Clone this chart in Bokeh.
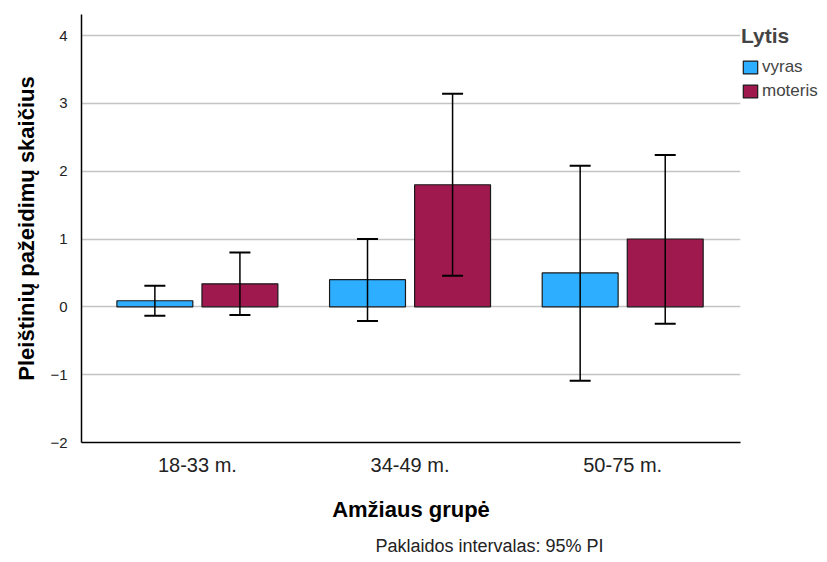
from bokeh.plotting import figure
from bokeh.models import (ColumnDataSource, Whisker, TeeHead, FixedTicker, Legend,
                          LegendItem, Range1d, Title)
from bokeh.embed import file_html
from bokeh.resources import INLINE

categories = ["18-33 m.", "34-49 m.", "50-75 m."]
vyras_mean = [0.09, 0.40, 0.50]
vyras_lower = [-0.13, -0.21, -1.09]
vyras_upper = [0.31, 1.00, 2.08]
moteris_mean = [0.34, 1.80, 1.00]
moteris_lower = [-0.12, 0.46, -0.25]
moteris_upper = [0.80, 3.14, 2.24]
y_ticks = [-2, -1, 0, 1, 2, 3, 4]

FONT = "Liberation Sans"
BLUE = "#2EAEFF"
MAROON = "#A0194E"
OFF = 0.2
BW = 0.357

xs = list(range(len(categories)))
src_v = ColumnDataSource(dict(x=[i - OFF for i in xs], top=vyras_mean,
                              lo=vyras_lower, hi=vyras_upper))
src_m = ColumnDataSource(dict(x=[i + OFF for i in xs], top=moteris_mean,
                              lo=moteris_lower, hi=moteris_upper))

p = figure(frame_width=659, frame_height=428, output_backend="svg", toolbar_location=None,
           x_range=Range1d(-0.545, 2.554), y_range=Range1d(-2, 4.31),
           min_border_left=81, min_border_top=14, min_border_bottom=0,
           min_border_right=0)
p.outline_line_color = None
p.background_fill_color = "white"
p.border_fill_color = "white"

rv = p.vbar(x="x", top="top", bottom=0, width=BW, source=src_v,
            fill_color=BLUE, line_color="#1a1a1a", line_width=1.2)
rm = p.vbar(x="x", top="top", bottom=0, width=BW, source=src_m,
            fill_color=MAROON, line_color="#1a1a1a", line_width=1.2)

for src in (src_v, src_m):
    w = Whisker(base="x", lower="lo", upper="hi", source=src, level="overlay",
                line_color="black", line_width=1.5,
                upper_head=TeeHead(size=21, line_color="black", line_width=2),
                lower_head=TeeHead(size=21, line_color="black", line_width=2))
    p.add_layout(w)

# axes
p.xaxis.ticker = FixedTicker(ticks=xs)
p.xaxis.major_label_overrides = {i: c for i, c in zip(xs, categories)}
p.xaxis.major_tick_line_color = None
p.xaxis.minor_tick_line_color = None
p.xaxis.axis_line_color = "black"
p.xaxis.axis_line_width = 1.5
p.xaxis.major_label_text_font = FONT
p.xaxis.major_label_text_font_size = "20px"
p.xaxis.major_label_text_color = "#222222"
p.xaxis.major_label_standoff = 5
p.xaxis.axis_label = "Amžiaus grupė"
p.xaxis.axis_label_text_font = FONT
p.xaxis.axis_label_text_font_size = "22px"
p.xaxis.axis_label_text_font_style = "bold"
p.xaxis.axis_label_text_color = "black"
p.xaxis.axis_label_standoff = 18

p.yaxis.ticker = FixedTicker(ticks=y_ticks)
p.yaxis.major_tick_line_color = None
p.yaxis.minor_tick_line_color = None
p.yaxis.axis_line_color = "black"
p.yaxis.axis_line_width = 1.5
p.yaxis.major_label_text_font = FONT
p.yaxis.major_label_text_font_size = "15px"
p.yaxis.major_label_text_color = "#222222"
p.yaxis.major_label_standoff = 8
p.yaxis.axis_label = "Pleištinių pažeidimų skaičius"
p.yaxis.axis_label_text_font = FONT
p.yaxis.axis_label_text_font_size = "22px"
p.yaxis.axis_label_text_font_style = "bold"
p.yaxis.axis_label_text_color = "black"
p.yaxis.axis_label_standoff = 8

p.xgrid.grid_line_color = None
p.ygrid.ticker = FixedTicker(ticks=y_ticks)
p.ygrid.grid_line_color = "#C4C4C4"
p.ygrid.grid_line_width = 1.5

legend = Legend(items=[LegendItem(label="vyras", renderers=[rv]),
                       LegendItem(label="moteris", renderers=[rm])],
                title="Lytis", location=(1, 340))
legend.title_text_font = FONT
legend.title_text_font_size = "21px"
legend.title_text_font_style = "bold"
legend.title_text_align = "center"
legend.title_standoff = 8
legend.label_text_font = FONT
legend.label_text_font_size = "17px"
legend.glyph_width = 18
legend.glyph_height = 16
legend.label_standoff = 3
legend.spacing = 2
legend.padding = 0
legend.margin = 0
legend.border_line_color = None
legend.background_fill_alpha = 0
legend.label_height = 22
p.add_layout(legend, "right")

foot = Title(text="Paklaidos intervalas: 95% PI", align="left", offset=294,
             text_font=FONT, text_font_size="18px", text_font_style="normal",
             text_color="#222222", standoff=22, vertical_align="top")
p.add_layout(foot, "below")

open("out.html", "w").write(file_html(p, INLINE))
